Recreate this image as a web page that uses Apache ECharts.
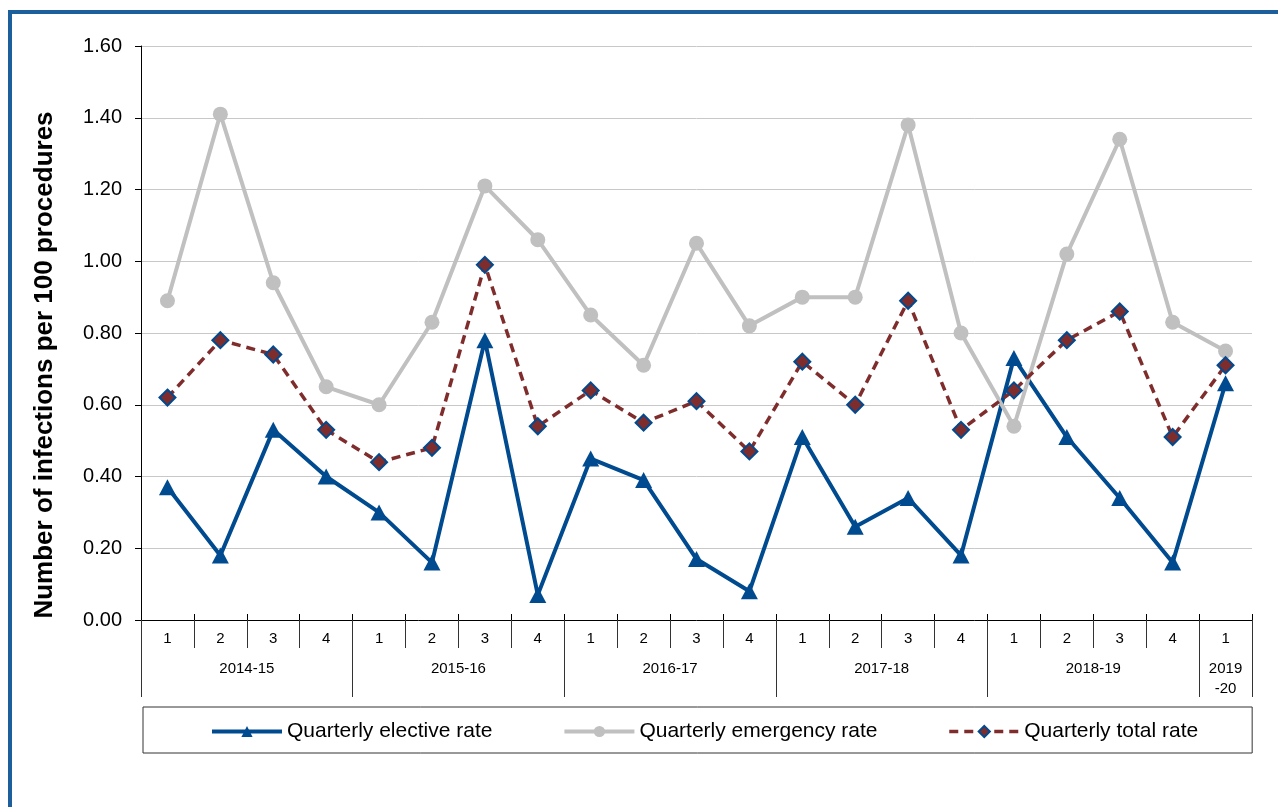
<!DOCTYPE html>
<html>
<head>
<meta charset="utf-8">
<title>Surgical site infection rates</title>
<script src="https://cdn.jsdelivr.net/npm/echarts@6/dist/echarts.min.js"></script>
<style>
  html, body { margin: 0; padding: 0; background: #fff; overflow: hidden; }
  #frame {
    position: absolute; left: 8px; top: 10px;
    width: 1400px; height: 1000px;
    border: 4px solid #1d5f9c; box-sizing: border-box;
  }
  #chart { position: absolute; left: 0; top: 0; width: 1278px; height: 807px; }
</style>
</head>
<body>
<div id="frame"></div>
<div id="chart"></div>
<script>
// Quarter labels along the category axis
const quarterLabels = ['1', '2', '3', '4', '1', '2', '3', '4', '1', '2', '3', '4',
                       '1', '2', '3', '4', '1', '2', '3', '4', '1'];
// Financial years and how many quarters each covers
const yearLabels = ['2014-15', '2015-16', '2016-17', '2017-18', '2018-19', '2019-20'];
const quartersPerYear = [4, 4, 4, 4, 4, 1];

// Infections per 100 procedures
const electiveRate  = [0.37, 0.18, 0.53, 0.40, 0.30, 0.16, 0.78, 0.07, 0.45, 0.39, 0.17,
                       0.08, 0.51, 0.26, 0.34, 0.18, 0.73, 0.51, 0.34, 0.16, 0.66];
const emergencyRate = [0.89, 1.41, 0.94, 0.65, 0.60, 0.83, 1.21, 1.06, 0.85, 0.71, 1.05,
                       0.82, 0.90, 0.90, 1.38, 0.80, 0.54, 1.02, 1.34, 0.83, 0.75];
const totalRate     = [0.62, 0.78, 0.74, 0.53, 0.44, 0.48, 0.99, 0.54, 0.64, 0.55, 0.61,
                       0.47, 0.72, 0.60, 0.89, 0.53, 0.64, 0.78, 0.86, 0.51, 0.71];

const yAxisTitle = 'Number of infections per 100 procedures';
const seriesNames = ['Quarterly elective rate', 'Quarterly emergency rate', 'Quarterly total rate'];

const FONT = "'Liberation Sans', Arial, Helvetica, sans-serif";
const BLUE = '#004a8f';
const GREY = '#c0c0c0';
const RED = '#7f2c2c';
const AXIS = '#000';

// Index of the first quarter of each year, and the mid point of each year
const groupStarts = [];
const groupMid = {};
let acc = 0;
quartersPerYear.forEach((n, i) => {
  groupStarts.push(acc);
  const label = n === 1 ? yearLabels[i].replace('-', '\n-') : yearLabels[i];
  groupMid[(acc + n / 2).toFixed(1)] = label;
  acc += n;
});

const chart = echarts.init(document.getElementById('chart'), null, { renderer: 'canvas' });

const baseCat = {
  type: 'category',
  position: 'bottom',
  data: quarterLabels,
  boundaryGap: true,
  axisLine: { show: false },
  axisLabel: { show: false },
  splitLine: { show: false }
};

const lineStyles = [
  { color: BLUE, width: 4 },
  { color: GREY, width: 4 },
  { color: RED, width: 3.5, type: [9, 6] }
];

chart.setOption({
  animation: false,
  backgroundColor: 'transparent',
  textStyle: { fontFamily: FONT },
  grid: { left: 141, right: 26, top: 46, bottom: 187, containLabel: false, outerBoundsMode: 'none' },
  legend: {
    data: seriesNames.map((name, i) => ({ name: name, lineStyle: lineStyles[i] })),
    left: 143,
    top: 707,
    orient: 'horizontal',
    padding: [14, 54, 11, 67],
    itemGap: 70,
    itemWidth: 70,
    itemHeight: 14,
    borderColor: '#333',
    borderWidth: 1,
    backgroundColor: '#fff',
    textStyle: { fontFamily: FONT, fontSize: 21, color: '#000' }
  },
  xAxis: [
    // quarter labels with short ticks above the axis line
    Object.assign({}, baseCat, {
      axisLine: { show: true, onZero: false, lineStyle: { color: AXIS, width: 1 } },
      axisTick: { show: true, inside: true, length: 6, interval: 0, lineStyle: { color: AXIS } },
      axisLabel: { show: true, interval: 0, margin: 11, fontSize: 15, color: '#000', fontFamily: FONT }
    }),
    // separators between quarters
    Object.assign({}, baseCat, {
      axisTick: { show: true, length: 28, interval: 0, lineStyle: { color: '#333' } }
    }),
    // separators between financial years
    Object.assign({}, baseCat, {
      axisTick: {
        show: true, length: 77,
        interval: (index) => groupStarts.indexOf(index) !== -1,
        lineStyle: { color: '#333' }
      }
    }),
    // year labels centred under their quarters
    {
      type: 'value',
      position: 'bottom',
      min: 0,
      max: quarterLabels.length,
      interval: 0.5,
      axisLine: { show: false },
      axisTick: { show: false },
      splitLine: { show: false },
      axisLabel: {
        show: true, margin: 39, fontSize: 15, lineHeight: 20, color: '#000', fontFamily: FONT,
        showMinLabel: true, showMaxLabel: true,
        formatter: (v) => groupMid[Number(v).toFixed(1)] || ''
      }
    }
  ],
  yAxis: {
    type: 'value',
    min: 0,
    max: 1.6,
    interval: 0.2,
    name: yAxisTitle,
    nameLocation: 'middle',
    nameRotate: 90,
    nameGap: 83,
    nameTextStyle: { fontFamily: FONT, fontSize: 26, fontWeight: 'bold', color: '#000', padding: [0, 64, 0, 0] },
    axisLine: { show: true, lineStyle: { color: AXIS, width: 1 } },
    axisTick: { show: true, length: 6, lineStyle: { color: AXIS } },
    axisLabel: { margin: 19, fontSize: 20, color: '#000', fontFamily: FONT, formatter: (v) => v.toFixed(2) },
    splitLine: { show: true, lineStyle: { color: '#c8c8c8', width: 1 } }
  },
  series: [
    {
      name: seriesNames[0],
      type: 'line',
      data: electiveRate,
      xAxisIndex: 0,
      symbol: 'triangle',
      symbolSize: [17, 16],
      lineStyle: lineStyles[0],
      itemStyle: { color: BLUE },
      emphasis: { disabled: true }
    },
    {
      name: seriesNames[1],
      type: 'line',
      data: emergencyRate,
      xAxisIndex: 0,
      symbol: 'circle',
      symbolSize: 15,
      lineStyle: lineStyles[1],
      itemStyle: { color: GREY },
      emphasis: { disabled: true }
    },
    {
      name: seriesNames[2],
      type: 'line',
      data: totalRate,
      xAxisIndex: 0,
      symbol: 'diamond',
      symbolSize: [16, 16],
      lineStyle: lineStyles[2],
      itemStyle: { color: RED, borderColor: BLUE, borderWidth: 2 },
      emphasis: { disabled: true }
    }
  ]
});
</script>
</body>
</html>
